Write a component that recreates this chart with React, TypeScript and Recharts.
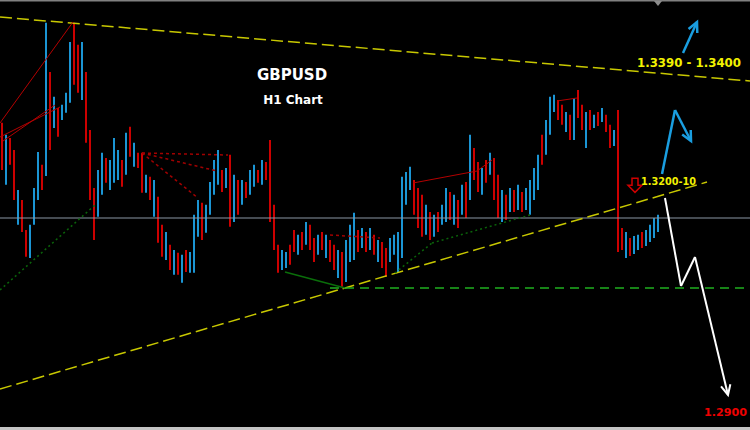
import { ComposedChart, Bar, Cell, XAxis, YAxis, ReferenceLine, ReferenceDot } from 'recharts'

// GBPUSD H1 bars, high / low per bar
const highs = [
  1.3316, 1.3298, 1.3293, 1.3275, 1.3215, 1.32, 1.3155, 1.3163, 1.3218, 1.3272,
  1.3253, 1.3466, 1.3392, 1.3355, 1.3338, 1.3343, 1.3361, 1.3437, 1.3466, 1.3433,
  1.3437, 1.3392, 1.3305, 1.3218, 1.3245, 1.3271, 1.3263, 1.326, 1.3293, 1.3275,
  1.326, 1.3301, 1.331, 1.3286, 1.3271, 1.3271, 1.3238, 1.3235, 1.323, 1.3205,
  1.3163, 1.3152, 1.3133, 1.3125, 1.3121, 1.3118, 1.3125, 1.3122, 1.3178, 1.32,
  1.3196, 1.3193, 1.3227, 1.326, 1.3275, 1.3245, 1.3248, 1.3268, 1.3238, 1.323,
  1.323, 1.3227, 1.3245, 1.3253, 1.3245, 1.326, 1.3257, 1.329, 1.3193, 1.3133,
  1.3125, 1.3122, 1.3133, 1.3155, 1.3148, 1.3152, 1.3167, 1.3163, 1.3143, 1.3148,
  1.3152, 1.3148, 1.314, 1.3133, 1.3125, 1.3122, 1.314, 1.3163, 1.3181, 1.3155,
  1.3158, 1.3152, 1.3158, 1.3148, 1.314, 1.3137, 1.3128, 1.3143, 1.3148, 1.3152,
  1.3235, 1.3242, 1.325, 1.323, 1.3218, 1.3208, 1.3193, 1.3182, 1.3178, 1.3182,
  1.3193, 1.3218, 1.3212, 1.3208, 1.32, 1.3223, 1.3227, 1.3298, 1.3278, 1.3257,
  1.3248, 1.326, 1.3271, 1.3263, 1.3238, 1.3215, 1.3208, 1.3218, 1.3215, 1.3223,
  1.3212, 1.3218, 1.323, 1.3248, 1.3268, 1.3298, 1.332, 1.3355, 1.3358, 1.335,
  1.3343, 1.3332, 1.3328, 1.3353, 1.3365, 1.3343, 1.3332, 1.3335, 1.3328, 1.3332,
  1.3338, 1.3328, 1.3313, 1.3305, 1.3335, 1.3158, 1.3152, 1.3143, 1.3146, 1.3148,
  1.3152, 1.3155, 1.3163, 1.3173, 1.3178,
]
const lows = [
  1.3245, 1.3223, 1.3253, 1.32, 1.3163, 1.3152, 1.3115, 1.3113, 1.3163, 1.32,
  1.3215, 1.3236, 1.3275, 1.3308, 1.3295, 1.332, 1.3331, 1.3346, 1.3373, 1.3361,
  1.335, 1.3286, 1.32, 1.314, 1.3175, 1.3208, 1.3226, 1.3215, 1.3226, 1.323,
  1.322, 1.3238, 1.3265, 1.325, 1.3248, 1.3211, 1.3211, 1.32, 1.3175, 1.3136,
  1.3115, 1.311, 1.3095, 1.3088, 1.3088, 1.3076, 1.3092, 1.3091, 1.3091, 1.3145,
  1.314, 1.3151, 1.3178, 1.3208, 1.3223, 1.3212, 1.3218, 1.316, 1.3167, 1.3178,
  1.3193, 1.3203, 1.3208, 1.322, 1.3226, 1.3223, 1.323, 1.3167, 1.3125, 1.3091,
  1.3095, 1.3098, 1.3103, 1.3122, 1.3118, 1.3125, 1.3133, 1.3125, 1.3107, 1.3118,
  1.3125, 1.3113, 1.3107, 1.3095, 1.3083, 1.307, 1.3077, 1.3107, 1.311, 1.3122,
  1.3128, 1.3122, 1.3125, 1.3118, 1.3107, 1.3098, 1.3085, 1.3107, 1.3118, 1.3092,
  1.3113, 1.3193, 1.3215, 1.3178, 1.3158, 1.3145, 1.3148, 1.314, 1.3145, 1.3152,
  1.3163, 1.3167, 1.317, 1.3163, 1.3158, 1.3178, 1.3173, 1.32, 1.323, 1.3212,
  1.3208, 1.3226, 1.3238, 1.32, 1.3173, 1.3167, 1.317, 1.3182, 1.3182, 1.3185,
  1.3182, 1.3185, 1.3178, 1.32, 1.3215, 1.3253, 1.3268, 1.3298, 1.3332, 1.332,
  1.3313, 1.3302, 1.329, 1.329, 1.3323, 1.3305, 1.3278, 1.3305, 1.3308, 1.3311,
  1.3317, 1.3302, 1.3278, 1.3281, 1.3122, 1.3125, 1.3113, 1.3116, 1.3119, 1.3125,
  1.3128, 1.3131, 1.3137, 1.3143, 1.3152,
]
// u = bull bar (blue), d = bear bar (red)
const moves = [
  'duddudduuu', 'dududuuudd', 'uddduuduuu', 'dududdudud', 'dudududuuu',
  'duuuududud', 'uduududddd', 'uuddududdu', 'dudduduuud', 'udududduuu',
  'uuudddudud', 'uududududd', 'ududdududu', 'duuuuduuud', 'dududdudud',
  'uddudduduu', 'duuuu',
].join('').split('')

// hand-drawn objects on the chart, [bar, price]
const upperTrend = [[-0.5, 1.34745], [187, 1.33785]]
const lowerTrend = [[-0.5, 1.29165], [176.25, 1.3227]]
const currentPrice = 1.3173
const supportLevel = 1.3068
const supportStart = 82
const redLines = [
  [[-0.5, 1.33155], [17.75, 1.3467]],
  [[-0.5, 1.32945], [14.5, 1.33395]],
  [[0.25, 1.32885], [13.25, 1.33425]],
  [[102.75, 1.32255], [118.75, 1.32435]],
  [[118.75, 1.32435], [122.5, 1.326]],
  [[138.75, 1.33485], [143.75, 1.3353]],
]
const redDotted = [
  [[35, 1.32705], [56.5, 1.32675]],
  [[35, 1.32705], [53.75, 1.32435]],
  [[35, 1.32705], [49, 1.3203]],
  [[82, 1.31475], [94.5, 1.3143]],
]
const greenDotted = [
  [[-0.5, 1.3065], [23.25, 1.31925]],
  [[98.25, 1.30905], [107.5, 1.31355]],
  [[107.5, 1.31355], [132, 1.31775]],
]
const greenLine = [[70.75, 1.3092], [85.75, 1.3068]]
const blueUpPath = [[170.25, 1.34205], [173.75, 1.3467]]
const blueZigzag = [[165, 1.3239], [168.25, 1.3335], [172.25, 1.32885]]
const whitePath = [[165.75, 1.3203], [169.75, 1.3071], [173.25, 1.31145], [181.5, 1.29075]]
const sellMark = [158.25, 1.3222]
const shiftMark = [164, 1.34955]

const labels = [
  { text: 'GBPUSD', at: [72.5, 1.338], size: 15, color: '#ffffff', anchor: 'middle', fit: 0 },
  { text: 'H1 Chart', at: [72.75, 1.3344], size: 12, color: '#ffffff', anchor: 'middle', fit: 0 },
  { text: '1.3390 - 1.3400', at: [158.75, 1.33995], size: 12, color: '#f2f200', anchor: 'start', fit: 104 },
  { text: '1.3200-10', at: [159.75, 1.32225], size: 10, color: '#f2f200', anchor: 'start', fit: 55 },
  { text: '1.2900', at: [175.5, 1.2876], size: 11, color: '#ee0000', anchor: 'start', fit: 43 },
]

const candles = highs.map((h, i) => ({ x: i, range: [lows[i], h], up: moves[i] === 'u' }))

const BLUE = '#1b95d4'
const RED = '#cc0000'

const seg = (a: number[], b: number[]) => [
  { x: a[0], y: a[1] },
  { x: b[0], y: b[1] },
]

const ArrowLine = (props: any) => {
  const { x1, y1, x2, y2, stroke, strokeWidth } = props
  const ang = Math.atan2(y2 - y1, x2 - x1)
  const len = 11
  const spread = 0.45
  const ax = x2 - len * Math.cos(ang - spread)
  const ay = y2 - len * Math.sin(ang - spread)
  const bx = x2 - len * Math.cos(ang + spread)
  const by = y2 - len * Math.sin(ang + spread)
  return (
    <g>
      <line x1={x1} y1={y1} x2={x2} y2={y2} stroke={stroke} strokeWidth={strokeWidth} />
      <polyline
        points={`${ax},${ay} ${x2},${y2} ${bx},${by}`}
        fill="none"
        stroke={stroke}
        strokeWidth={strokeWidth}
      />
    </g>
  )
}

// path drawn as segments, arrow head on the last one
const renderPath = (pts: number[][], color: string, width: number, key: string) =>
  pts.slice(1).map((p, i) => (
    <ReferenceLine
      key={`${key}-${i}`}
      segment={seg(pts[i], p)}
      stroke={color}
      strokeWidth={width}
      ifOverflow="visible"
      shape={i === pts.length - 2 ? ArrowLine : undefined}
    />
  ))

export default function App() {
  return (
    <div style={{ position: 'absolute', left: 0, top: 0, width: 750, height: 430, background: '#000' }}>
      <ComposedChart
        width={750}
        height={430}
        data={candles}
        margin={{ top: 0, right: 0, bottom: 0, left: 0 }}
      >
        <XAxis type="number" dataKey="x" domain={[-0.5, 187]} hide allowDataOverflow />
        <YAxis type="number" domain={[1.2855, 1.35]} hide allowDataOverflow />

        {/* frame */}
        <ReferenceLine y={1.35} stroke="#808080" strokeWidth={3} ifOverflow="visible" />
        <ReferenceLine y={1.2855} stroke="#c4c4c4" strokeWidth={6} ifOverflow="visible" />

        <ReferenceLine y={currentPrice} stroke="#8a96a4" strokeWidth={1} />

        <Bar dataKey="range" barSize={2} isAnimationActive={false}>
          {candles.map((c) => (
            <Cell key={c.x} fill={c.up ? BLUE : RED} />
          ))}
        </Bar>

        <ReferenceLine
          segment={seg(upperTrend[0], upperTrend[1])}
          stroke="#c8c800"
          strokeWidth={1.5}
          strokeDasharray="12 5"
          ifOverflow="visible"
        />
        <ReferenceLine
          segment={seg(lowerTrend[0], lowerTrend[1])}
          stroke="#c8c800"
          strokeWidth={1.5}
          strokeDasharray="12 5"
          ifOverflow="visible"
        />
        <ReferenceLine
          segment={seg([supportStart, supportLevel], [187, supportLevel])}
          stroke="#1fae1f"
          strokeWidth={1.5}
          strokeDasharray="9 6"
          ifOverflow="visible"
        />
        <ReferenceLine
          segment={seg(greenLine[0], greenLine[1])}
          stroke="#0a6e0a"
          strokeWidth={1.5}
          ifOverflow="visible"
        />
        {greenDotted.map((l, i) => (
          <ReferenceLine
            key={`gd${i}`}
            segment={seg(l[0], l[1])}
            stroke="#0a640a"
            strokeWidth={1.5}
            strokeDasharray="2 3"
            ifOverflow="visible"
          />
        ))}
        {redLines.map((l, i) => (
          <ReferenceLine
            key={`rl${i}`}
            segment={seg(l[0], l[1])}
            stroke="#b40000"
            strokeWidth={1}
            ifOverflow="visible"
          />
        ))}
        {redDotted.map((l, i) => (
          <ReferenceLine
            key={`rd${i}`}
            segment={seg(l[0], l[1])}
            stroke="#a00000"
            strokeWidth={1.5}
            strokeDasharray="3 3"
            ifOverflow="visible"
          />
        ))}

        {renderPath(blueUpPath, '#1a9ee0', 2.5, 'bu')}
        {renderPath(blueZigzag, '#1a9ee0', 2.5, 'bz')}
        {renderPath(whitePath, '#ffffff', 2, 'wp')}

        <ReferenceDot
          x={sellMark[0]}
          y={sellMark[1]}
          r={1}
          shape={(p: any) => (
            <path
              d={`M${p.cx - 3},${p.cy - 7} L${p.cx + 3},${p.cy - 7} L${p.cx + 3},${p.cy} L${p.cx + 7},${p.cy} L${p.cx},${p.cy + 7} L${p.cx - 7},${p.cy} L${p.cx - 3},${p.cy} Z`}
              fill="none"
              stroke="#d00000"
              strokeWidth={1.5}
            />
          )}
        />
        <ReferenceDot
          x={shiftMark[0]}
          y={shiftMark[1]}
          r={1}
          shape={(p: any) => (
            <path
              d={`M${p.cx - 4},${p.cy - 2} L${p.cx + 4},${p.cy - 2} L${p.cx},${p.cy + 3} Z`}
              fill="#8c8c8c"
            />
          )}
        />

        {labels.map((l) => (
          <ReferenceDot
            key={l.text}
            x={l.at[0]}
            y={l.at[1]}
            r={1}
            shape={(p: any) => (
              <text
                x={p.cx}
                y={p.cy}
                fill={l.color}
                fontSize={l.size}
                fontWeight="bold"
                fontFamily="DejaVu Sans"
                textAnchor={l.anchor}
                textLength={l.fit || undefined}
                lengthAdjust={l.fit ? 'spacingAndGlyphs' : undefined}
              >
                {l.text}
              </text>
            )}
          />
        ))}
      </ComposedChart>
    </div>
  )
}
